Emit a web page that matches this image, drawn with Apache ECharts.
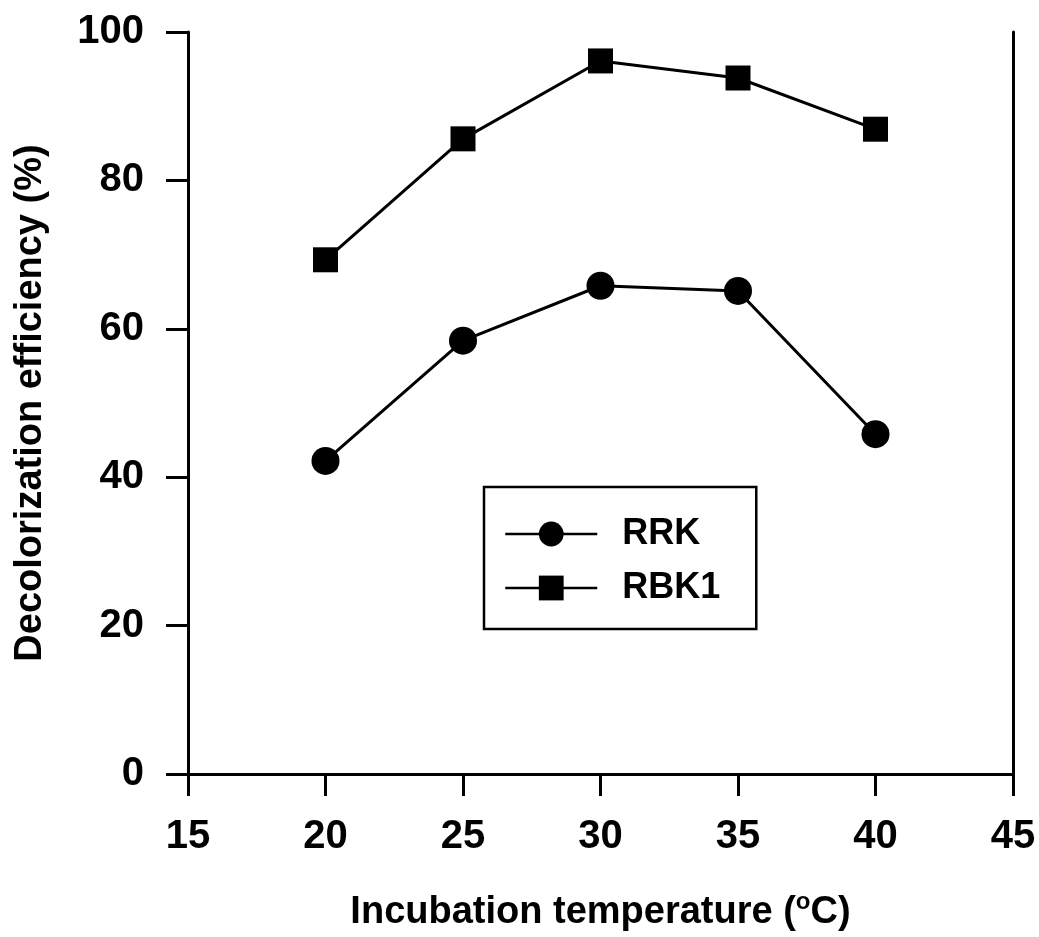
<!DOCTYPE html>
<html>
<head>
<meta charset="utf-8">
<script src="https://cdn.jsdelivr.net/npm/echarts@6/dist/echarts.min.js"></script>
<style>
  html, body { margin: 0; padding: 0; background: #fff; }
  #chart { width: 1039px; height: 937px; }
</style>
</head>
<body>
<div id="chart"></div>
<script>
// values
const temperatures = [20, 25, 30, 35, 40];
const rrk = [42.2, 58.4, 65.8, 65.1, 45.8];
const rbk1 = [69.3, 85.6, 96.1, 93.8, 86.9];

const font = 'Liberation Sans, Arial, sans-serif';

const chart = echarts.init(document.getElementById('chart'));

// plain lines for the top and right of the frame
const frameAxis = {
  axisLine: { show: true, lineStyle: { color: '#000', width: 3 } },
  axisTick: { show: false },
  axisLabel: { show: false },
  splitLine: { show: false }
};

const option = {
  backgroundColor: '#fff',
  animation: false,
  grid: { left: 188, top: 32, right: 26, bottom: 161 },
  legend: {
    data: ['RRK', 'RBK1'],
    orient: 'vertical',
    left: 484,
    top: 487,
    padding: [29, 36, 23, 20],
    itemWidth: 92,
    itemHeight: 31,
    itemGap: 18,
    borderColor: '#000',
    borderWidth: 2.5,
    lineStyle: { width: 2.5 },
    textStyle: { fontFamily: font, fontSize: 36, fontWeight: 'bold', color: '#000', padding: [0, 0, 0, 20] }
  },
  xAxis: [{
    type: 'value',
    min: 15, max: 45, interval: 5,
    name: 'Incubation temperature ({sup|o}C)',
    nameLocation: 'middle',
    nameGap: 116,
    nameTextStyle: {
      fontFamily: font, fontSize: 38, fontWeight: 'bold', color: '#000',
      rich: { sup: { fontFamily: font, fontSize: 24, fontWeight: 'bold', color: '#000', verticalAlign: 'top', padding: [0, 0, 22, 0] } }
    },
    axisLine: { show: true, onZero: false, lineStyle: { color: '#000', width: 3 } },
    axisTick: { show: true, inside: false, length: 22, lineStyle: { color: '#000', width: 3 } },
    axisLabel: { fontFamily: font, fontSize: 40, fontWeight: 'bold', color: '#000', margin: 43 },
    splitLine: { show: false }
  }, Object.assign({ type: 'value', position: 'top', min: 15, max: 45 }, frameAxis)],
  yAxis: [{
    type: 'value',
    min: 0, max: 100, interval: 20,
    name: 'Decolorization efficiency (%)',
    nameLocation: 'middle',
    nameGap: 138,
    nameTextStyle: { fontFamily: font, fontSize: 38, fontWeight: 'bold', color: '#000' },
    axisLine: { show: true, onZero: false, lineStyle: { color: '#000', width: 3 } },
    axisTick: { show: true, inside: false, length: 22, lineStyle: { color: '#000', width: 3 } },
    axisLabel: { fontFamily: font, fontSize: 40, fontWeight: 'bold', color: '#000', margin: 44 },
    splitLine: { show: false }
  }, Object.assign({ type: 'value', position: 'right', min: 0, max: 100 }, frameAxis)],
  series: [{
    name: 'RRK',
    type: 'line',
    data: temperatures.map((t, i) => [t, rrk[i]]),
    symbol: 'circle',
    symbolSize: 28,
    lineStyle: { color: '#000', width: 3 },
    itemStyle: { color: '#000' }
  }, {
    name: 'RBK1',
    type: 'line',
    data: temperatures.map((t, i) => [t, rbk1[i]]),
    symbol: 'rect',
    symbolSize: 25,
    lineStyle: { color: '#000', width: 3 },
    itemStyle: { color: '#000' }
  }]
};

chart.setOption(option);
</script>
</body>
</html>
